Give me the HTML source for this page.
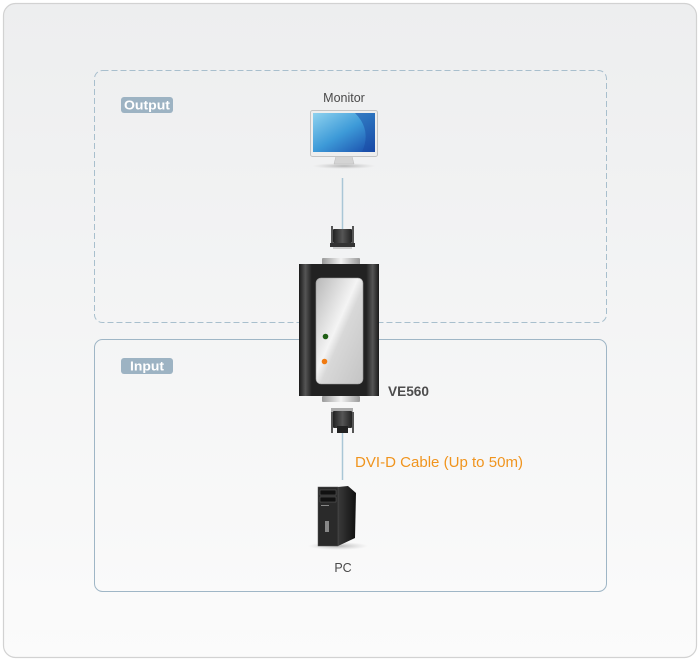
<!DOCTYPE html>
<html><head><meta charset="utf-8">
<style>
html,body{margin:0;padding:0;background:#fff;}
body{width:700px;height:661px;overflow:hidden;position:relative;font-family:"Liberation Sans",Arial,sans-serif;}
svg{position:absolute;left:0;top:0;}
</style></head>
<body>
<svg width="700" height="661" viewBox="0 0 700 661" xmlns="http://www.w3.org/2000/svg">
<defs>
<linearGradient id="bg" x1="0" y1="0" x2="0" y2="1">
<stop offset="0" stop-color="#edeeef"/><stop offset="1" stop-color="#fbfbfb"/>
</linearGradient>
<linearGradient id="scr" x1="0" y1="0" x2="1" y2="1">
<stop offset="0" stop-color="#8fd2ef"/><stop offset="0.5" stop-color="#3d9ad8"/><stop offset="1" stop-color="#1647a8"/>
</linearGradient>
<linearGradient id="body" x1="0" y1="0" x2="1" y2="0">
<stop offset="0" stop-color="#1a1a1a"/><stop offset="0.08" stop-color="#555"/><stop offset="0.16" stop-color="#222"/>
<stop offset="0.84" stop-color="#222"/><stop offset="0.92" stop-color="#555"/><stop offset="1" stop-color="#1a1a1a"/>
</linearGradient>
<linearGradient id="panel" x1="0" y1="0" x2="1" y2="1">
<stop offset="0" stop-color="#b8b8b8"/><stop offset="0.45" stop-color="#f4f4f4"/><stop offset="0.55" stop-color="#d8d8d8"/><stop offset="1" stop-color="#c4c4c4"/>
</linearGradient>
<linearGradient id="silver" x1="0" y1="0" x2="1" y2="0">
<stop offset="0" stop-color="#999"/><stop offset="0.5" stop-color="#f2f2f2"/><stop offset="1" stop-color="#999"/>
</linearGradient>
<linearGradient id="conn" x1="0" y1="0" x2="1" y2="0">
<stop offset="0" stop-color="#222"/><stop offset="0.5" stop-color="#555"/><stop offset="1" stop-color="#222"/>
</linearGradient>
<linearGradient id="pcside" x1="0" y1="0" x2="1" y2="0">
<stop offset="0" stop-color="#3a3a3a"/><stop offset="1" stop-color="#111"/>
</linearGradient>
<radialGradient id="shadow" cx="0.5" cy="0.5" r="0.5">
<stop offset="0" stop-color="#999" stop-opacity="0.7"/><stop offset="1" stop-color="#bbb" stop-opacity="0"/>
</radialGradient>
</defs>

<rect x="3.5" y="3.5" width="693" height="654" rx="12" fill="url(#bg)" stroke="#d2d2d2" stroke-width="1.2"/>

<rect x="94.5" y="70.5" width="512" height="252" rx="8" fill="none" stroke="#a8bfcd" stroke-width="1" stroke-dasharray="6,3"/>
<rect x="94.5" y="339.5" width="512" height="252" rx="8" fill="none" stroke="#9fb6c6" stroke-width="1"/>

<rect x="121" y="97" width="52" height="16" rx="3" fill="#9db3c3"/>
<text x="124" y="109.5" textLength="46" lengthAdjust="spacingAndGlyphs" font-size="12.5" font-weight="bold" fill="#fff">Output</text>
<rect x="121" y="358" width="52" height="16" rx="3" fill="#9db3c3"/>
<text x="130" y="370.5" textLength="34" lengthAdjust="spacingAndGlyphs" font-size="12.5" font-weight="bold" fill="#fff">Input</text>

<!-- Monitor -->
<text x="344" y="102" text-anchor="middle" font-size="12.5" fill="#4a4a4a">Monitor</text>
<ellipse cx="344" cy="166" rx="32" ry="3" fill="url(#shadow)"/>
<path d="M336 156 L352 156 L354 164 L334 164 Z" fill="#d4d4d4" stroke="#bbb" stroke-width="0.5"/>
<rect x="310.5" y="110.5" width="67" height="46" rx="2" fill="#eeeeee" stroke="#c4c4c4"/>
<rect x="313" y="113" width="62" height="39" fill="url(#scr)"/>
<path d="M355 113 Q372 130 362 152 L375 152 L375 113 Z" fill="#1a4aa4" opacity="0.5"/>

<line x1="342.5" y1="178" x2="342.5" y2="230" stroke="#a9c6d6" stroke-width="1.5"/>
<rect x="333" y="229" width="19" height="14" rx="1" fill="url(#conn)"/>
<rect x="330" y="243" width="25" height="4" fill="#333"/>
<rect x="331" y="226" width="2" height="17" fill="#555"/>
<rect x="352" y="226" width="2" height="17" fill="#555"/>
<rect x="333" y="247" width="19" height="2" fill="#ccc"/>

<rect x="322" y="258" width="38" height="7" rx="1" fill="url(#silver)"/>
<rect x="299" y="264" width="80" height="132" fill="url(#body)"/>
<rect x="316" y="278" width="47" height="106" rx="5" fill="url(#panel)" stroke="#999" stroke-width="0.6"/>
<circle cx="325.5" cy="336.5" r="2.8" fill="#1e5e14"/>
<circle cx="324.5" cy="361.5" r="2.8" fill="#f07a10"/>
<rect x="322" y="396" width="38" height="6" rx="1" fill="url(#silver)"/>
<text x="388" y="396" textLength="41" lengthAdjust="spacingAndGlyphs" font-size="13.5" font-weight="bold" fill="#4d4d4d">VE560</text>

<rect x="331" y="408" width="22" height="4" fill="#aaa"/>
<rect x="333" y="411" width="19" height="17" rx="1" fill="url(#conn)"/>
<rect x="331" y="412" width="2" height="21" fill="#555"/>
<rect x="352" y="412" width="2" height="21" fill="#555"/>
<rect x="337" y="426" width="11" height="7" fill="#222"/>
<line x1="342.5" y1="433" x2="342.5" y2="480" stroke="#a9c6d6" stroke-width="1.5"/>

<text x="355" y="467" textLength="168" lengthAdjust="spacingAndGlyphs" font-size="14.5" fill="#f0941e">DVI-D Cable (Up to 50m)</text>

<!-- PC -->
<ellipse cx="338" cy="546" rx="30" ry="4" fill="url(#shadow)"/>
<path d="M338 487 L348 486 L356 493 L355 538 L338 546 Z" fill="url(#pcside)"/>
<rect x="318" y="487" width="20" height="59" fill="#2a2a2a" stroke="#555" stroke-width="0.5"/>
<rect x="320" y="490" width="16" height="5" fill="#111" stroke="#777" stroke-width="0.4"/>
<rect x="320" y="497" width="16" height="5" fill="#111" stroke="#777" stroke-width="0.4"/>
<rect x="321" y="505" width="8" height="1" fill="#888"/>
<rect x="325" y="521" width="4" height="11" fill="#888"/>
<text x="343" y="572" text-anchor="middle" font-size="12.5" fill="#4a4a4a">PC</text>
</svg>
</body></html>
